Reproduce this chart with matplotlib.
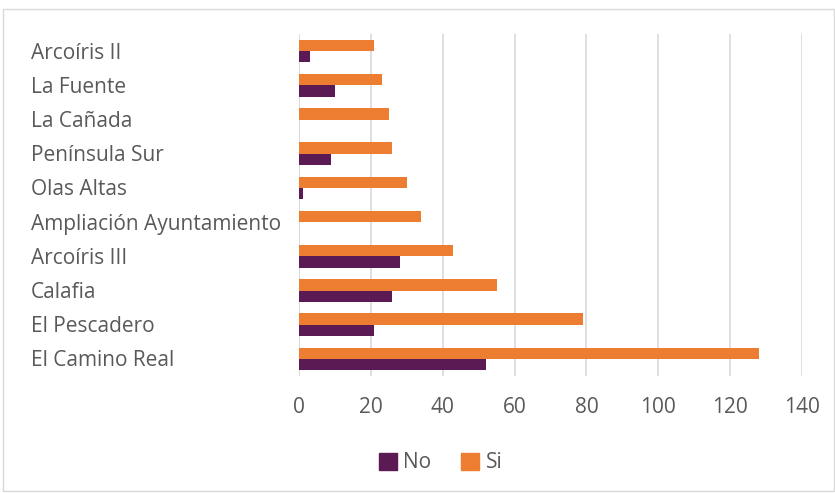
import matplotlib
matplotlib.use("Agg")
import matplotlib.pyplot as plt
import matplotlib.transforms as mtransforms
import numpy as np
from matplotlib.patches import Rectangle, Patch

categories = ["Arcoíris II", "La Fuente", "La Cañada", "Península Sur", "Olas Altas",
              "Ampliación Ayuntamiento", "Arcoíris III", "Calafia", "El Pescadero", "El Camino Real"]
no_vals = [3, 10, 0, 9, 1, 0, 28, 26, 21, 52]
si_vals = [21, 23, 25, 26, 30, 34, 43, 55, 79, 128]
xticks = [0, 20, 40, 60, 80, 100, 120, 140]

FONT = "Open Sans"
FS = 15
TXT = "#595959"
C_NO = "#5c1a54"
C_SI = "#ed7d31"

fig = plt.figure(figsize=(8.35, 4.93), dpi=100)
fig.patch.set_facecolor("white")
fig.patches.append(Rectangle((3/835, 0.004), 1 - 4/835, 1 - 9/493 - 0.004, transform=fig.transFigure,
                             fill=False, edgecolor="#d9d9d9", linewidth=1.0))

ax = fig.add_axes([299/835, 1 - 376/493, (802 - 299)/835, (376 - 34)/493])
n = len(categories)
ypos = np.arange(n)[::-1]
h = 0.33
ax.barh(ypos + h/2, si_vals, height=h, color=C_SI, label="Si", zorder=3)
ax.barh(ypos - h/2, no_vals, height=h, color=C_NO, label="No", zorder=3)

ax.set_xlim(0, 140)
ax.set_ylim(-0.5, n - 0.5)
ax.set_xticks(xticks)
ax.set_xticklabels([str(t) for t in xticks], fontsize=FS, color=TXT, family=FONT)
ax.tick_params(axis="x", length=0, pad=15)
ax.set_yticks([])
ax.grid(axis="x", color="#d9d9d9", linewidth=1.2, zorder=0)
for s in ["top", "right", "bottom", "left"]:
    ax.spines[s].set_visible(False)
ax.axvline(0, color="#d9d9d9", linewidth=1.2, zorder=1)

trans = mtransforms.blended_transform_factory(fig.transFigure, ax.transData)
trans = trans + mtransforms.ScaledTranslation(0, -2/100, fig.dpi_scale_trans)
for y, c in zip(ypos, categories):
    fig.text(31/835, y, c, transform=trans, ha="left", va="center", fontsize=FS,
             color=TXT, family=FONT)

handles = [Patch(color=C_NO, label="No"), Patch(color=C_SI, label="Si")]
fig.legend(handles=handles, loc="center", bbox_to_anchor=(0.5275, 1 - 463/493), ncol=2, frameon=False,
           prop={"family": FONT, "size": FS}, labelcolor=TXT, handlelength=0.87, handleheight=0.87,
           handletextpad=0.3, columnspacing=1.45, borderpad=0, borderaxespad=0)

fig.savefig("out.png", dpi=100)
